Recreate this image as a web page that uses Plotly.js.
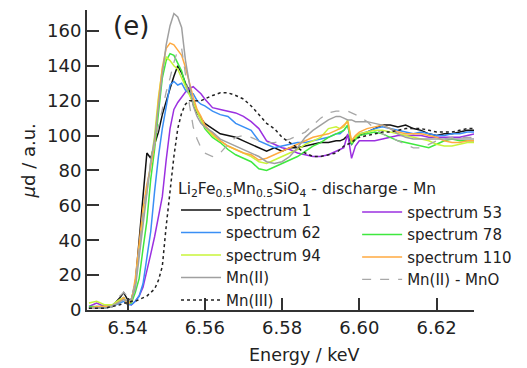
<!DOCTYPE html>
<html>
<head>
<meta charset="utf-8">
<script src="https://cdn.plot.ly/plotly-3.0.1.min.js"></script>
<style>html,body{margin:0;padding:0;background:#fff;}#chart{width:527px;height:368px;}</style>
</head>
<body>
<div id="chart"></div>
<script>
// Energy grid (keV)
const energy = [6.530,6.532,6.534,6.536,
6.538,6.539,6.540,6.541,6.542,6.543,6.544,6.545,6.546,6.547,6.548,6.549,6.550,6.551,6.552,6.553,6.554,6.555,6.556,6.557,6.558,6.559,6.560,
6.562,6.564,6.566,6.568,6.570,6.572,6.574,6.576,6.578,6.580,6.582,6.584,6.586,6.588,6.590,6.592,6.594,
6.595,6.596,6.597,6.598,6.599,6.600,
6.602,6.604,6.606,6.608,6.610,6.612,6.614,6.616,6.618,6.620,6.622,6.624,6.626,6.628,6.630];

const spectrum1 = [1,1,2,2,
7,10,6,6,15,38,65,90,87,95,102,112,120,127,134,140,136,130,126,118,113,110,107,
104,101,100,99,97,95,93,91,93,91,93,93,94,95,96,96,97,
97,98,100,95,98,100,
102,104,106,106,105,106,104,103,101,100,101,101,102,103,103];

const spectrum53 = [2,4,2,2,
6,7,4,3,5,8,13,22,32,42,53,65,86,104,115,119,122,125,127,128,126,124,121,
116,115,114,113,111,108,104,97,95,93,92,90,89,88,88,89,91,
92,93,101,87,94,97,
97,97,98,99,100,100,100,100,99,99,99,99,99,100,101];

const spectrum62 = [1,2,1,2,
4,5,3,3,5,8,15,30,45,68,88,104,117,129,131,129,130,126,124,124,120,118,117,
114,112,111,107,105,103,97,95,93,94,95,96,96,97,98,99,101,
101,103,106,95,99,101,
102,104,105,104,103,102,101,102,101,100,100,101,101,102,102];

const spectrum78 = [2,2,2,2,
5,7,4,4,10,18,35,51,75,92,113,133,143,147,146,141,137,129,124,119,113,108,104,
99,96,92,89,87,85,81,80,82,84,86,88,91,94,96,99,101,
102,103,106,95,98,100,
101,102,101,99,97,96,95,94,93,95,97,98,97,97,97];

const spectrum94 = [4,5,3,3,
6,7,4,6,15,35,52,68,85,100,122,138,145,143,140,138,133,128,124,118,113,109,105,
100,97,94,92,90,88,85,84,86,88,90,92,95,97,99,104,105,
104,105,109,96,99,101,
102,103,103,102,101,100,99,98,97,95,94,94,95,96,96];

const spectrum110 = [1,2,2,2,
5,7,3,5,18,40,58,72,82,95,120,139,150,153,152,149,146,139,130,122,115,111,106,
101,97,94,92,90,89,86,87,89,91,93,95,97,99,100,101,103,
104,106,108,97,100,102,
104,105,106,104,102,101,101,101,100,99,97,96,96,97,97];

const mnII = [1,1,1,2,
5,6,5,6,12,30,50,68,85,98,118,135,152,163,170,168,162,143,130,117,111,107,105,
102,98,96,94,92,90,88,85,84,85,88,93,99,103,106,109,111,
111,110,109,109,108,108,
108,107,106,104,101,99,98,98,98,98,98,98,98,98,98];

const mnIIMnO = [1,1,1,2,
8,10,8,8,15,35,55,70,85,95,105,115,125,133,142,149,150,135,118,105,98,93,90,
88,90,95,99,100,99,97,96,96,97,98,100,102,106,110,113,114,
114,114,114,113,112,111,
108,104,101,99,97,95,93,93,95,97,98,99,99,99,99];

const mnIII = [1,1,1,2,
3,4,4,5,5,6,7,8,10,12,17,25,48,68,88,104,113,118,120,120,120,120,121,
123,124.5,124.5,123,121,117,112,107,104,99,96,93,90,88,88,89,90,
92,94,95,96,98,99,
100,101,102,102,103,104,104,104,103,102,102,102,103,104,104];

const seriesNames = ["spectrum 1","spectrum 53","spectrum 62","spectrum 78","spectrum 94","spectrum 110","Mn(II)","Mn(II) - MnO","Mn(III)"];
const seriesValues = [spectrum1, spectrum53, spectrum62, spectrum78, spectrum94, spectrum110, mnII, mnIIMnO, mnIII];
const seriesColors = ["#111111","#9b30e0","#3a8ff5","#3fe83f","#c8f53a","#ffaa40","#a0a0a0","#a8a8a8","#222222"];
const seriesDash = ["solid","solid","solid","solid","solid","solid","solid","dash","dot"];
const seriesLegend = ["legend","legend2","legend","legend2","legend","legend2","legend","legend2","legend"];
const seriesWidth = [1.5,1.5,1.5,1.5,1.5,1.5,1.5,1.3,1.5];

const traces = seriesNames.map((n, i) => ({
  type: "scatter", mode: "lines", name: n,
  x: energy, y: seriesValues[i],
  line: {color: seriesColors[i], width: seriesWidth[i], dash: seriesDash[i]},
  legend: seriesLegend[i]
}));

const FONT = "DejaVu Sans, sans-serif";
const layout = {
  width: 527, height: 368,
  margin: {l: 87, r: 50, t: 10, b: 58},
  paper_bgcolor: "#fff", plot_bgcolor: "#fff",
  font: {family: FONT, size: 16, color: "#222"},
  showlegend: true,
  xaxis: {
    range: [6.5295, 6.6297], tickvals: [6.54, 6.56, 6.58, 6.60, 6.62],
    ticktext: ["6.54","6.56","6.58","6.60","6.62"],
    showgrid: false, zeroline: false, showline: true, linecolor: "#333", linewidth: 2,
    ticks: "inside", ticklen: 12, tickwidth: 2, tickcolor: "#333",
    tickfont: {size: 18, family: FONT, color: "#222"}
  },
  yaxis: {
    range: [0, 172], tickvals: [0, 20, 40, 60, 80, 100, 120, 140, 160],
    showgrid: false, zeroline: false, showline: true, linecolor: "#333", linewidth: 2,
    ticks: "inside", ticklen: 12, tickwidth: 2, tickcolor: "#333",
    tickfont: {size: 18, family: FONT, color: "#222"}
  },
  legend: {
    x: 0.23, y: 0.455, xanchor: "left", yanchor: "top",
    bgcolor: "rgba(0,0,0,0)", borderwidth: 0, itemwidth: 40,
    font: {size: 15, family: FONT, color: "#222"},
    title: {text: "Li<sub>2</sub>Fe<sub>0.5</sub>Mn<sub>0.5</sub>SiO<sub>4</sub> - discharge - Mn", font: {size: 15.5, family: FONT, color: "#222"}}
  },
  legend2: {
    x: 0.698, y: 0.381, xanchor: "left", yanchor: "top",
    bgcolor: "rgba(0,0,0,0)", borderwidth: 0, itemwidth: 40,
    font: {size: 15, family: FONT, color: "#222"}
  },
  annotations: [
    {text: "(e)", xref: "paper", yref: "paper", x: 0.113, y: 0.948, xanchor: "center", yanchor: "middle",
     showarrow: false, font: {size: 26, family: FONT, color: "#222"}},
    {text: "<i>μ</i>d / a.u.", xref: "paper", yref: "paper", x: -0.151, y: 0.497, xanchor: "center", yanchor: "middle",
     textangle: -90, showarrow: false, font: {size: 18, family: FONT, color: "#222"}},
    {text: "Energy / keV", xref: "paper", yref: "paper", x: 0.562, y: -0.15, xanchor: "center", yanchor: "middle",
     showarrow: false, font: {size: 17.5, family: FONT, color: "#222"}}
  ]
};

Plotly.newPlot("chart", traces, layout, {staticPlot: true});
</script>
</body>
</html>
